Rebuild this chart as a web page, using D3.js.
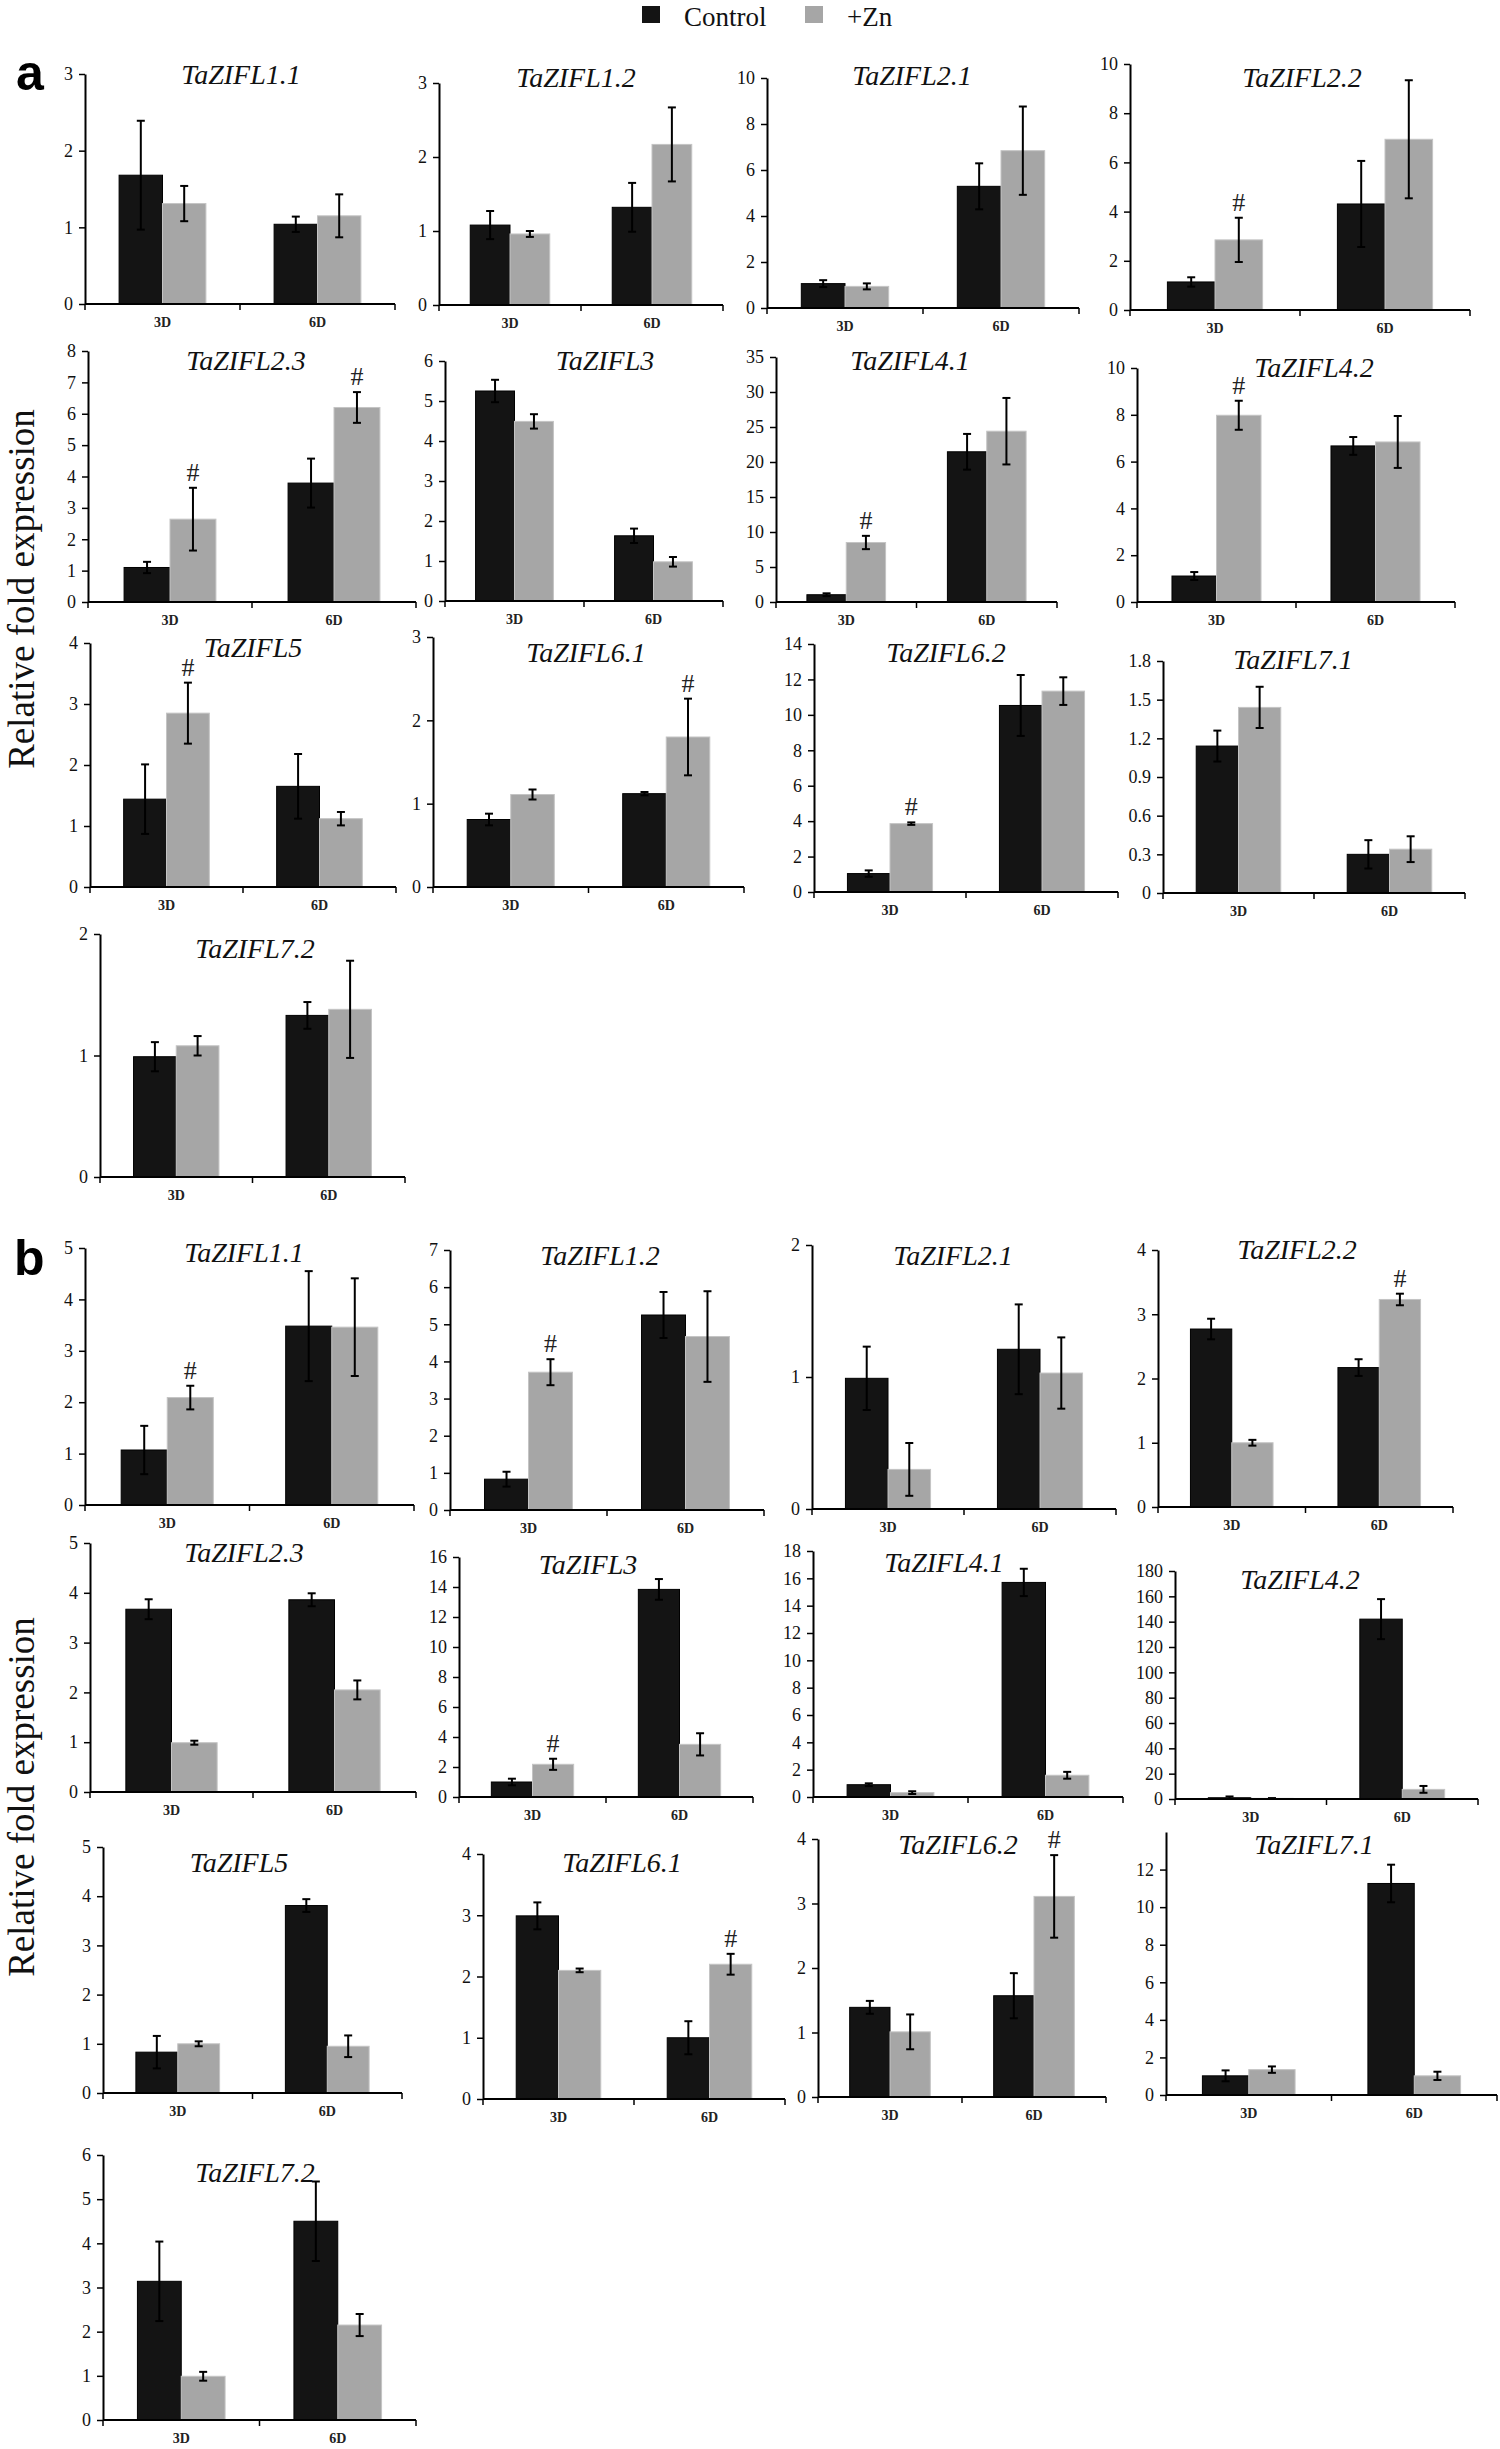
<!DOCTYPE html>
<html>
<head>
<meta charset="utf-8">
<script src="https://cdn.jsdelivr.net/npm/d3@7"></script>
<style>
  html, body { margin: 0; padding: 0; background: #fff; }
  svg { display: block; }
</style>
</head>
<body>
<svg id="chart" width="1500" height="2449"></svg>
<script>
// ---------------- DATA ----------------
const panelGroups = ["a", "b"];
const genes = ["TaZIFL1.1","TaZIFL1.2","TaZIFL2.1","TaZIFL2.2","TaZIFL2.3","TaZIFL3",
               "TaZIFL4.1","TaZIFL4.2","TaZIFL5","TaZIFL6.1","TaZIFL6.2","TaZIFL7.1","TaZIFL7.2"];
const categories = ["3D", "6D"];
const seriesNames = ["Control", "+Zn"];
const yAxisTitle = "Relative fold expression";

// y axis: domain maximum, last labelled tick, tick step (panels a1..a13, b1..b13)
const yDomainMax = [3,3,10,10,8,6,35,10,4,3,14,1.8,2,   5,7,2,4,5,16,18,180,5,4,4,14,6];
const yTickMax   = [3,3,10,10,8,6,35,10,4,3,14,1.8,2,   5,7,2,4,5,16,18,180,5,4,4,12,6];
const yTickStep  = [1,1,2,2,1,1,5,2,1,1,2,0.3,1,        1,1,1,1,1,2,2,20,1,1,1,2,1];

// mean and error values
const control3D    = [1.68,1.08,1.06,1.14,1.10,5.25,1.04,1.11,1.44,0.81,1.04,1.14,0.99,
                      1.07,0.83,0.99,2.77,3.67,1.00,0.90,1.0,0.83,2.99,1.39,1.02,3.14];
const control3DErr = [0.71,0.19,0.15,0.19,0.18,0.28,0.20,0.17,0.57,0.07,0.18,0.12,0.12,
                      0.47,0.20,0.24,0.16,0.20,0.22,0.10,1.0,0.33,0.22,0.10,0.29,0.90];
const zn3D         = [1.31,0.96,0.94,2.85,2.64,4.49,8.5,7.98,2.85,1.11,3.86,1.44,1.08,
                      2.09,3.71,0.30,1.00,0.99,2.18,0.32,0.5,1.00,2.10,1.01,1.35,0.99];
const zn3DErr      = [0.23,0.04,0.13,0.90,1.00,0.18,0.95,0.62,0.50,0.06,0.07,0.16,0.08,
                      0.23,0.35,0.20,0.045,0.04,0.37,0.10,0.2,0.05,0.03,0.27,0.17,0.10];
const control6D    = [1.04,1.32,5.29,4.31,3.79,1.63,21.46,6.67,1.65,1.12,10.53,0.30,1.33,
                      3.48,5.25,1.21,2.17,3.86,13.84,15.7,142,3.81,1.00,1.57,11.26,4.5];
const control6DErr = [0.10,0.33,1.00,1.75,0.78,0.18,2.55,0.38,0.53,0.02,1.72,0.11,0.11,
                      1.07,0.62,0.34,0.13,0.13,0.69,1.00,15.8,0.13,0.27,0.35,1.00,0.90];
const zn6D         = [1.15,2.17,6.84,6.94,6.20,0.98,24.4,6.84,1.12,1.80,11.34,0.34,1.38,
                      3.46,4.67,1.03,3.23,2.05,3.51,1.59,7.6,0.95,2.20,3.11,1.02,2.15];
const zn6DErr      = [0.28,0.50,1.92,2.40,0.49,0.12,4.75,1.11,0.11,0.46,0.78,0.10,0.40,
                      0.95,1.22,0.27,0.09,0.19,0.74,0.25,2.7,0.22,0.17,0.64,0.22,0.25];

// panels whose +Zn bar carries a "#" mark
const sigZn3D = [3,4,6,7,8,10,13,14,18];
const sigZn6D = [4,9,16,22,23];

// ---------------- LAYOUT (plot frames) ----------------
// [axisLeft, yOfDomainMax, yOfZero, axisRight, titleX, titleBaseline]
const frames = [
  [85,74,304,395,241,84],   [439,83,305,723,576,87],   [767,78,308,1079,912,85],   [1130,64,310,1470,1302,87],
  [88,351,602,416,246,370], [445,361,601,723,605,370], [776,357,602,1057,910,370], [1137,368,602,1455,1314,377],
  [90,643,887,396,253,657], [433,637,887,744,586,662], [814,644,892,1118,946,662], [1163,661,893,1465,1293,669],
  [100,934,1177,405,255,958],
  [85,1248,1505,414,244,1262], [450,1250,1510,764,600,1265], [812,1245,1509,1116,953,1265], [1158,1250,1507,1453,1297,1259],
  [90,1543,1792,416,244,1562], [459,1557,1797,753,588,1574], [813,1551,1797,1123,944,1572], [1175,1571,1799,1478,1300,1589],
  [103,1847,2093,402,239,1872],[483,1854,2099,785,622,1872],[818,1839,2097,1106,958,1854],[1166,1832,2095,1497,1314,1854],
  [103,2155,2420,416,255,2182]
];

const serif = "'Liberation Serif','Times New Roman',serif";
const colors = d3.scaleOrdinal().domain(seriesNames).range(["#141414", "#a6a6a6"]);
const strokeCol = d3.scaleOrdinal().domain(seriesNames).range(["#000000", "#c4c4c4"]);

const svg = d3.select("#chart");
svg.append("rect").attr("width",1500).attr("height",2449).attr("fill","#fff");

// ---------------- LEGEND ----------------
const legend = svg.append("g");
const legX = d3.scaleOrdinal().domain(seriesNames).range([642, 805]);
seriesNames.forEach(s => {
  legend.append("rect").attr("x", legX(s)).attr("y", 6).attr("width", 18).attr("height", 17)
    .attr("fill", colors(s));
  legend.append("text").attr("x", legX(s) + 42).attr("y", 26)
    .attr("font-family", serif).attr("font-size", 27).attr("fill", "#111").text(s);
});

// panel letters
[["a", 16, 90], ["b", 14, 1275]].forEach(([t, x, y]) => {
  svg.append("text").attr("x", x).attr("y", y).attr("font-family", "'Liberation Sans',Arial,sans-serif")
    .attr("font-weight", "bold").attr("font-size", 50).attr("fill", "#000").text(t);
});

// y axis titles
[589, 1797].forEach(cy => {
  svg.append("text").attr("transform", `translate(34,${cy}) rotate(-90)`)
    .attr("text-anchor", "middle").attr("font-family", serif).attr("font-size", 37)
    .attr("fill", "#111").text(yAxisTitle);
});

// ---------------- PANELS ----------------
const fmt = v => String(+v.toFixed(1));
const nPanels = panelGroups.length * genes.length;

for (let i = 0; i < nPanels; i++) {
  const [left, top, zero, right, tx, ty] = frames[i];
  const g = svg.append("g");
  const y = d3.scaleLinear().domain([0, yDomainMax[i]]).range([zero, top]);
  const x = d3.scaleBand().domain(categories).range([left, right]);
  const bw = x.bandwidth() * 0.28;

  // y axis
  const ticks = d3.range(0, yTickMax[i] + yTickStep[i] / 2, yTickStep[i]);
  const yAx = g.append("g").attr("transform", `translate(${left},0)`)
    .call(d3.axisLeft(y).tickValues(ticks).tickSize(6).tickSizeOuter(0).tickPadding(6).tickFormat(fmt));
  yAx.select(".domain").attr("stroke", "#000").attr("stroke-width", 2);
  yAx.selectAll(".tick line").attr("stroke", "#000").attr("stroke-width", 1.5);
  yAx.selectAll(".tick text").attr("font-family", serif).attr("font-size", 18).attr("fill", "#111");

  // bars
  const data = [
    {cat: "3D", s: "Control", v: control3D[i], e: control3DErr[i], sig: false},
    {cat: "3D", s: "+Zn",     v: zn3D[i],      e: zn3DErr[i],      sig: sigZn3D.includes(i)},
    {cat: "6D", s: "Control", v: control6D[i], e: control6DErr[i], sig: false},
    {cat: "6D", s: "+Zn",     v: zn6D[i],      e: zn6DErr[i],      sig: sigZn6D.includes(i)}
  ];
  const bx = d => x(d.cat) + x.bandwidth() / 2 + (d.s === "Control" ? -bw : 0);

  g.selectAll("rect.bar").data(data).join("rect").attr("class", "bar")
    .attr("x", bx).attr("width", bw)
    .attr("y", d => y(d.v)).attr("height", d => zero - y(d.v))
    .attr("fill", d => colors(d.s)).attr("stroke", d => strokeCol(d.s)).attr("stroke-width", 1);

  // error bars
  const eb = g.selectAll("g.err").data(data).join("g").attr("class", "err")
    .attr("stroke", "#000").attr("stroke-width", 2);
  eb.append("line").attr("x1", d => bx(d) + bw / 2).attr("x2", d => bx(d) + bw / 2)
    .attr("y1", d => y(d.v + d.e)).attr("y2", d => y(Math.max(0, d.v - d.e)));
  eb.append("line").attr("x1", d => bx(d) + bw / 2 - 4).attr("x2", d => bx(d) + bw / 2 + 4)
    .attr("y1", d => y(d.v + d.e)).attr("y2", d => y(d.v + d.e));
  eb.append("line").attr("x1", d => bx(d) + bw / 2 - 4).attr("x2", d => bx(d) + bw / 2 + 4)
    .attr("y1", d => y(Math.max(0, d.v - d.e))).attr("y2", d => y(Math.max(0, d.v - d.e)));

  // significance marks
  g.selectAll("text.sig").data(data.filter(d => d.sig)).join("text").attr("class", "sig")
    .attr("x", d => bx(d) + bw / 2).attr("y", d => y(d.v + d.e) - 7)
    .attr("text-anchor", "middle").attr("font-family", serif).attr("font-size", 26)
    .attr("fill", "#222").text("#");

  // x axis
  g.append("line").attr("x1", left).attr("x2", right).attr("y1", zero).attr("y2", zero)
    .attr("stroke", "#000").attr("stroke-width", 2);
  const bounds = categories.map(c => x(c)).concat([x.range()[1]]);
  g.selectAll("line.xt").data(bounds).join("line").attr("class", "xt")
    .attr("x1", d => d).attr("x2", d => d).attr("y1", zero).attr("y2", zero + 6)
    .attr("stroke", "#000").attr("stroke-width", 1.5);
  g.selectAll("text.xl").data(categories).join("text").attr("class", "xl")
    .attr("x", c => x(c) + x.bandwidth() / 2).attr("y", zero + 23)
    .attr("text-anchor", "middle").attr("font-family", serif).attr("font-size", 14)
    .attr("font-weight", "bold").attr("fill", "#222").text(c => c);

  // title
  g.append("text").attr("x", tx).attr("y", ty).attr("text-anchor", "middle")
    .attr("font-family", serif).attr("font-style", "italic").attr("font-size", 28)
    .attr("fill", "#111").text(genes[i % genes.length]);
}
</script>
</body>
</html>
